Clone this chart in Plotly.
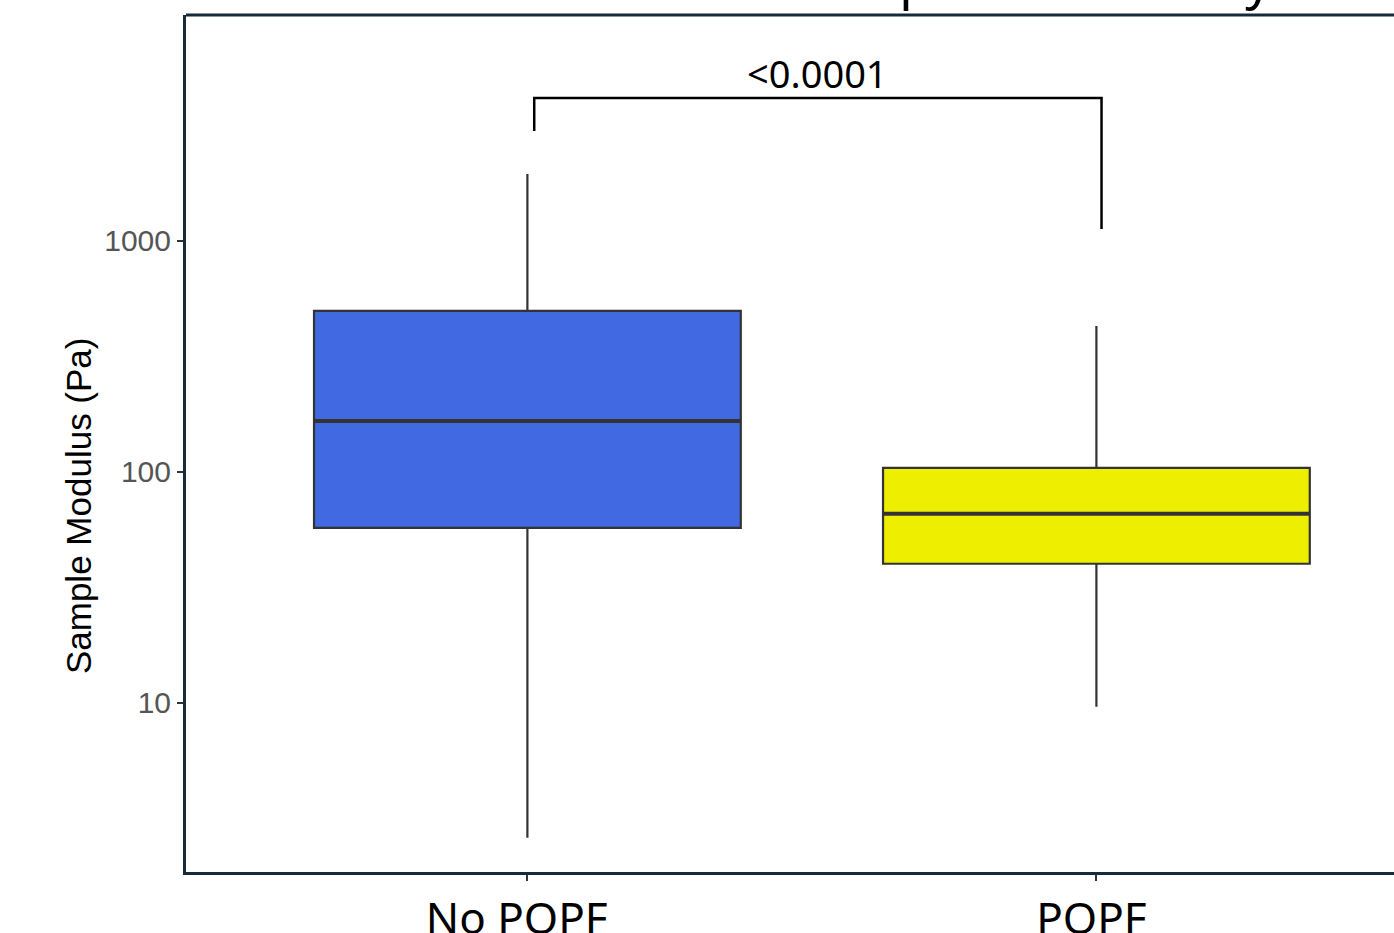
import math
import plotly.graph_objects as go

# ---- data ----
categories = ["No POPF", "POPF"]
x_pos = [0, 1]
q1 = [57.2, 40.0]
median = [166.0, 65.8]
q3 = [498.0, 104.0]
lower_whisker = [2.6, 9.6]
upper_whisker = [1950.0, 428.0]
box_colors = ["#4169E1", "#EEEE00"]
y_tickvals = [10, 100, 1000]
y_ticktext = ["10", "100", "1000"]
y_title = "Sample Modulus (Pa)"
p_label = "<0.0001"
bracket_y_top = 4160.0
bracket_y_left = 2995.0
bracket_y_right = 1127.0
bracket_x = [0.012, 1.009]
title_text = "Sample Modulus by POPF"

BOX_W = 0.75
LINE_C = "#333333"
FRAME_C = "#152a3a"

fig = go.Figure()

for i, cat in enumerate(categories):
    fig.add_trace(go.Box(
        x=[x_pos[i]], q1=[q1[i]], median=[median[i]], q3=[q3[i]],
        lowerfence=[lower_whisker[i]], upperfence=[upper_whisker[i]],
        width=BOX_W, whiskerwidth=0, fillcolor=box_colors[i],
        line=dict(color=LINE_C, width=2.2), name=cat, showlegend=False,
        hoverinfo="skip", boxpoints=False,
    ))
    fig.add_trace(go.Scatter(
        x=[x_pos[i] - BOX_W / 2, x_pos[i] + BOX_W / 2],
        y=[median[i], median[i]], mode="lines",
        line=dict(color=LINE_C, width=4), showlegend=False, hoverinfo="skip",
    ))

# significance bracket
fig.add_trace(go.Scatter(
    x=[bracket_x[0], bracket_x[0], bracket_x[1], bracket_x[1]],
    y=[bracket_y_left, bracket_y_top, bracket_y_top, bracket_y_right],
    mode="lines", line=dict(color="black", width=2.5),
    showlegend=False, hoverinfo="skip",
))
fig.add_annotation(
    x=sum(bracket_x) / 2, y=math.log10(bracket_y_top), xref="x", yref="y",
    text=p_label, showarrow=False, yanchor="bottom", yshift=-3,
    font=dict(family="Noto Sans", size=38, color="black"),
)

# partially visible title (clipped at the top of the page)
fig.add_annotation(
    x=0.501, y=1, xref="paper", yref="paper", xanchor="left", yanchor="bottom",
    text=title_text, showarrow=False, yshift=0,
    font=dict(family="Noto Sans", size=52, color="black"),
)

# y axis title
fig.add_annotation(
    x=0, y=0.427, xref="paper", yref="paper", xanchor="center", yanchor="middle",
    xshift=-108, textangle=-90, text=y_title, showarrow=False,
    font=dict(family="Liberation Sans", size=35, color="black"),
)

# top frame line
fig.add_shape(type="line", xref="paper", yref="paper", x0=0, x1=1, y0=1, y1=1,
              line=dict(color=FRAME_C, width=3))

fig.update_layout(
    width=1394, height=933, autosize=False,
    margin=dict(l=186, r=0, t=15, b=61),
    paper_bgcolor="white", plot_bgcolor="white",
    font=dict(family="Liberation Sans"),
    xaxis=dict(
        range=[-0.6, -0.6 + (1394 - 186) / 569], tickvals=x_pos,
        ticktext=[categories[0] + "\u00a0", categories[1]],
        showgrid=False, zeroline=False, showline=True, linecolor=FRAME_C, linewidth=3,
        ticks="outside", ticklen=6, tickcolor=LINE_C, tickwidth=1.5, automargin=False,
        ticklabelshift=-5,
        tickfont=dict(family="Noto Sans", size=44, color="black"),
    ),
    yaxis=dict(
        type="log", range=[math.log10(1.85), math.log10(9510)],
        tickvals=y_tickvals, ticktext=y_ticktext, automargin=False,
        showgrid=False, zeroline=False, showline=True, linecolor=FRAME_C, linewidth=3,
        ticks="outside", ticklen=6, tickcolor=LINE_C, tickwidth=1.5,
        tickfont=dict(family="Liberation Sans", size=30, color="#555555"),
    ),
)

fig.write_html(
    "out.html",
    config={"displayModeBar": False},
    post_script="document.body.style.margin='0';document.body.style.overflow='hidden';",
)
